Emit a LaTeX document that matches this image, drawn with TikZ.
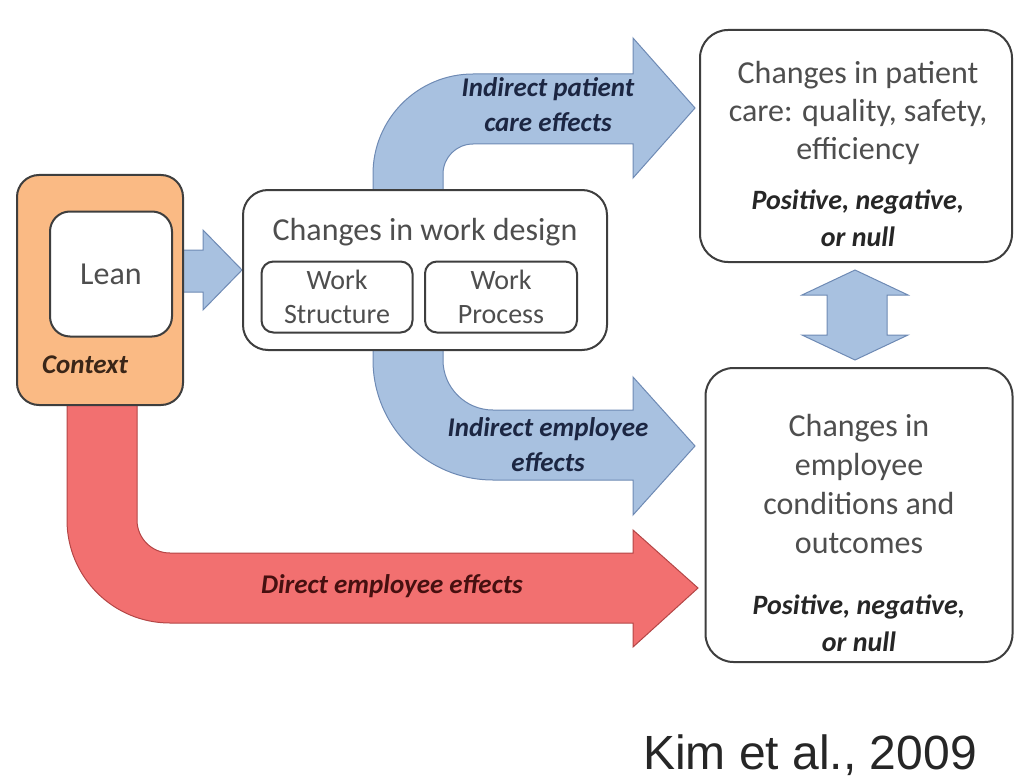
\documentclass[tikz,border=0pt]{standalone}
\usepackage{fontspec}
\setmainfont{Carlito}
\newfontfamily\kimfont{Liberation Sans}
\definecolor{boxline}{RGB}{62,62,62}
\definecolor{boxtext}{RGB}{78,78,78}
\definecolor{ctxfill}{RGB}{250,186,132}
\definecolor{ctxtext}{RGB}{58,38,24}
\definecolor{bluefill}{RGB}{168,193,224}
\definecolor{blueline}{RGB}{110,138,180}
\definecolor{redfill}{RGB}{242,112,112}
\definecolor{redline}{RGB}{180,70,70}
\definecolor{bluetext}{RGB}{28,38,66}
\definecolor{redtext}{RGB}{70,16,16}
\tikzset{
  box/.style={draw=boxline, line width=2pt, fill=white, rounded corners=22pt, inner sep=0pt},
  subbox/.style={box, rounded corners=12pt, align=center, text=boxtext, font=\fontsize{28}{34}\selectfont},
  maintext/.style={align=center, text=boxtext, font=\fontsize{32}{38}\selectfont},
  notetext/.style={align=center, text=black!85, font=\fontsize{28}{37}\selectfont\bfseries\itshape},
  effect/.style={align=center, font=\fontsize{27}{35}\selectfont\bfseries\itshape},
  bluearrow/.style={fill=bluefill, draw=blueline, line width=1pt},
  redarrow/.style={fill=redfill, draw=redline, line width=1pt},
}
\begin{document}
\begin{tikzpicture}[x=1pt,y=-1pt]
        \useasboundingbox (0,0) rectangle (1016,778);
        %% Block arrows
        \draw[bluearrow] (373,205) -- (373,174) arc[start angle=180,end angle=270,radius=100]
            -- (633,74) -- (633,38) -- (695,108) -- (633,178) -- (633,144) -- (473,144)
            arc[start angle=270,end angle=180,radius=30] -- (443,205) -- cycle;
        \draw[bluearrow] (373,340) -- (373,360) arc[start angle=180,end angle=90,radius=120]
            -- (633,480) -- (633,515) -- (695,446) -- (633,377) -- (633,410) -- (493,410)
            arc[start angle=90,end angle=180,radius=50] -- (443,340) -- cycle;
        \draw[redarrow] (67,400) -- (67,520) arc[start angle=180,end angle=90,radius=103]
            -- (633,623) -- (633,647) -- (698,588) -- (633,530) -- (633,553) -- (170,553)
            arc[start angle=90,end angle=180,radius=33] -- (137,400) -- cycle;
        \draw[bluearrow] (180,250) -- (203,250) -- (203,230) -- (242,270) -- (203,310)
            -- (203,292) -- (180,292) -- cycle;
        \draw[bluearrow] (855,270) -- (908,295) -- (887,295) -- (887,335) -- (908,335)
            -- (855,360) -- (802,335) -- (827,335) -- (827,295) -- (802,295) -- cycle;
        %% Arrow labels
        \node[effect, text=bluetext] (patientlbl) at (548,105) {Indirect patient\\care effects};
        \node[effect, text=bluetext] (employeelbl) at (548,445) {Indirect employee\\effects};
        \node[effect, text=redtext] (directlbl) at (392,586) {Direct employee effects};
        %% Lean and context
        \node[box, fill=ctxfill, minimum width=166pt, minimum height=230pt] (ctx) at (100,290) {};
        \node[box, rounded corners=20pt, minimum width=122pt, minimum height=125pt,
            maintext] (lean) at (111,274) {Lean};
        \node[effect, text=ctxtext] (ctxlbl) at (85,365) {Context};
        %% Work design
        \node[box, rounded corners=25pt, minimum width=364pt, minimum height=160pt] (design) at (425,270) {};
        \node[maintext] (designlbl) at (425,232) {Changes in work design};
        \node[subbox, minimum width=151pt, minimum height=71pt] (structure) at (337,297) {Work\\Structure};
        \node[subbox, minimum width=152pt, minimum height=71pt] (process) at (501,297) {Work\\Process};
        %% Outcomes
        \node[box, rounded corners=28pt, minimum width=312pt, minimum height=232pt] (patient) at (856,146) {};
        \node[maintext] (patienttxt) at (858,113) {Changes in patient\\care: quality, safety,\\efficiency};
        \node[notetext] (patientnote) at (858,218) {Positive, negative,\\or null};
        \node[box, rounded corners=28pt, minimum width=307pt, minimum height=294pt] (employee) at (859,515) {};
        \node[maintext, font=\fontsize{32}{39}\selectfont] (employeetxt) at (859,484) {Changes in\\employee\\conditions and\\outcomes};
        \node[notetext] (employeenote) at (859,623) {Positive, negative,\\or null};
        %% Source
        \node[text=black!85, font=\kimfont\fontsize{48}{56}\selectfont] (source) at (810,755) {Kim et al., 2009};
    \end{tikzpicture}
\end{document}
